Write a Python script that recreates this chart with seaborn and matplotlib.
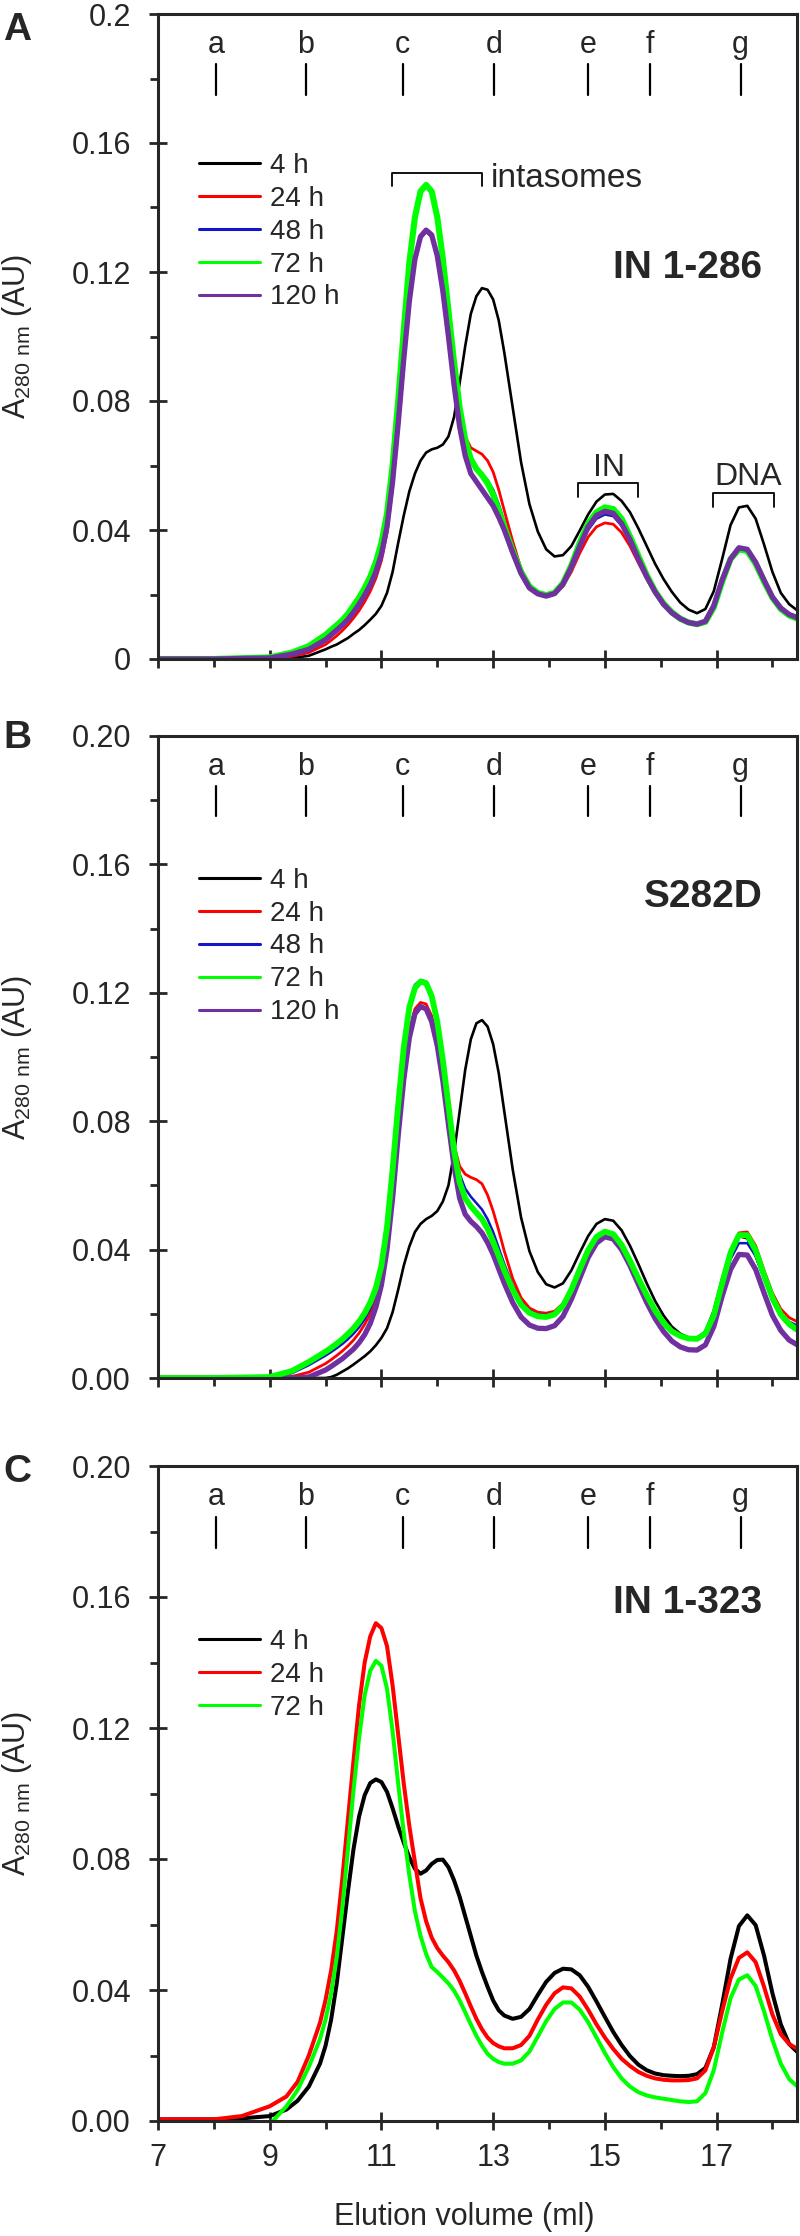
# SEC elution profiles - intasome assembly over time
# three stacked panels: IN 1-286, S282D, IN 1-323

import numpy as np
import pandas as pd
import matplotlib
matplotlib.use("Agg")
import matplotlib.pyplot as plt
import seaborn as sns


# ------------------------------ DATA ------------------------------

# elution volume (ml), panels A and B
vol_ab = [7.0, 8.0, 9.0, 9.4, 9.7,
          10.0, 10.1, 10.2, 10.3, 10.4, 10.5, 10.6, 10.7, 10.8, 10.9,
          11.0, 11.1, 11.2, 11.3, 11.4, 11.5, 11.6, 11.7, 11.8, 11.9,
          12.0, 12.1, 12.2, 12.3, 12.4, 12.5, 12.6, 12.7, 12.8, 12.9,
          13.0, 13.1, 13.2,
          13.35, 13.5, 13.65, 13.8, 13.95, 14.1, 14.25, 14.4, 14.55, 14.7, 14.85, 15.0,
          15.15, 15.3, 15.45, 15.6, 15.75, 15.9, 16.05, 16.2, 16.35, 16.5,
          16.65, 16.8, 16.95, 17.1, 17.25, 17.4, 17.55, 17.7, 17.85, 18.0, 18.15, 18.3, 18.45]

# elution volume (ml), panel C
vol_c = [7.0, 8.0, 8.5, 9.0, 9.3, 9.5, 9.7, 9.9,
         10.0, 10.1, 10.2, 10.3, 10.4, 10.5, 10.6, 10.7, 10.8, 10.9,
         11.0, 11.1, 11.2, 11.3, 11.4, 11.5, 11.6, 11.7, 11.8, 11.9,
         12.0, 12.1, 12.2, 12.3, 12.4, 12.5, 12.6, 12.7, 12.8, 12.9,
         13.0, 13.1, 13.2,
         13.35, 13.5, 13.65, 13.8, 13.95, 14.1, 14.25, 14.4, 14.55, 14.7, 14.85, 15.0,
         15.15, 15.3, 15.45, 15.6, 15.75, 15.9, 16.05, 16.2, 16.35, 16.5,
         16.65, 16.8, 16.95, 17.1, 17.25, 17.4, 17.55, 17.7, 17.85, 18.0, 18.15, 18.3, 18.45]

# Panel A - IN 1-286 (A280, AU)
a_4h = [0.0, 0.0, 0.0, 0.0003, 0.001,
        0.003, 0.0038, 0.0045, 0.0055, 0.0065, 0.0078, 0.009, 0.0105, 0.0122, 0.014,
        0.0165, 0.0205, 0.027, 0.036, 0.0445, 0.052, 0.0575, 0.0615, 0.064, 0.065,
        0.0655, 0.0665, 0.069, 0.075, 0.0855, 0.097, 0.107, 0.1125, 0.115, 0.1145,
        0.1115, 0.105, 0.095,
        0.078, 0.061, 0.048, 0.0395, 0.034, 0.0318, 0.0322, 0.035, 0.0398, 0.0448, 0.0488, 0.051,
        0.0512, 0.049, 0.0455, 0.0405, 0.035, 0.0295, 0.0248, 0.0208, 0.0175, 0.0153,
        0.0142, 0.0155, 0.021, 0.031, 0.0415, 0.047, 0.0475, 0.0435, 0.0355, 0.027, 0.0205, 0.017, 0.015]
a_24h = [0.0, 0.0, 0.0, 0.0008, 0.002,
         0.0045, 0.0058, 0.0072, 0.0088, 0.0106, 0.0127, 0.015, 0.0178, 0.021, 0.025,
         0.0305, 0.039, 0.053, 0.071, 0.091, 0.11, 0.123, 0.1305, 0.1325, 0.131,
         0.1245, 0.1135, 0.1, 0.0865, 0.076, 0.069, 0.0655, 0.0645, 0.0635, 0.0615,
         0.058, 0.0525, 0.046,
         0.0365, 0.028, 0.0228, 0.0203, 0.0195, 0.02, 0.0225, 0.027, 0.0328, 0.0378, 0.041, 0.0422,
         0.0418, 0.0392, 0.035, 0.0298, 0.0248, 0.0204, 0.0168, 0.0141, 0.0123, 0.0112,
         0.0107, 0.0116, 0.0163, 0.0243, 0.0308, 0.0342, 0.0337, 0.0298, 0.0243, 0.0191, 0.0157, 0.0137, 0.0127]
a_48h = [0.0, 0.0, 0.0002, 0.0012, 0.0027,
         0.0055, 0.007, 0.0085, 0.01, 0.0118, 0.014, 0.0165, 0.0193, 0.0225, 0.0265,
         0.032, 0.0405, 0.0545, 0.0725, 0.0925, 0.1105, 0.1235, 0.1305, 0.1325, 0.131,
         0.1248, 0.114, 0.1005, 0.0865, 0.0745, 0.066, 0.061, 0.059, 0.0575, 0.0555,
         0.0525, 0.048, 0.0425,
         0.0345, 0.0272, 0.0225, 0.0203, 0.0196, 0.0203, 0.0232, 0.0283, 0.0345, 0.04, 0.0435, 0.0448,
         0.0443, 0.0413, 0.0365, 0.0308, 0.0253, 0.0206, 0.0168, 0.0141, 0.0123, 0.0111,
         0.0106, 0.0114, 0.0162, 0.0242, 0.0307, 0.0341, 0.0336, 0.0297, 0.0242, 0.019, 0.0156, 0.0136, 0.0126]
a_72h = [0.0, 0.0, 0.0005, 0.002, 0.004,
         0.0075, 0.009, 0.0105, 0.012, 0.014, 0.0165, 0.019, 0.022, 0.0255, 0.03,
         0.036, 0.045, 0.06, 0.08, 0.102, 0.123, 0.137, 0.145, 0.147, 0.145,
         0.137, 0.124, 0.108, 0.092, 0.078, 0.068, 0.062, 0.059, 0.057, 0.0545,
         0.051, 0.046, 0.041,
         0.0335, 0.027, 0.0225, 0.0205, 0.0198, 0.0205, 0.0235, 0.029, 0.036, 0.042, 0.0455, 0.047,
         0.0465, 0.0435, 0.038, 0.032, 0.026, 0.021, 0.0172, 0.0145, 0.0125, 0.0113,
         0.0108, 0.0115, 0.016, 0.024, 0.031, 0.034, 0.0335, 0.0295, 0.024, 0.019, 0.0155, 0.0135, 0.0125]
a_120h = [0.0, 0.0, 0.0003, 0.0015, 0.003,
          0.006, 0.0075, 0.009, 0.0105, 0.0123, 0.0145, 0.017, 0.0198, 0.023, 0.027,
          0.0325, 0.041, 0.055, 0.073, 0.093, 0.111, 0.124, 0.131, 0.133, 0.1315,
          0.125, 0.114, 0.1, 0.085, 0.072, 0.063, 0.0575, 0.055, 0.0525, 0.05,
          0.0475, 0.044, 0.04,
          0.033, 0.0265, 0.022, 0.0202, 0.0195, 0.0203, 0.0232, 0.0285, 0.035, 0.041, 0.0445, 0.0458,
          0.0452, 0.042, 0.037, 0.031, 0.0255, 0.0208, 0.017, 0.0143, 0.0125, 0.0113,
          0.0108, 0.0117, 0.0165, 0.0245, 0.031, 0.0345, 0.034, 0.03, 0.0245, 0.0192, 0.0158, 0.0138, 0.0128]

# Panel B - S282D
b_4h = [0.0, 0.0, 0.0, 0.0, 0.0,
        0.0, 0.0003, 0.001, 0.002, 0.003, 0.0042, 0.0055, 0.0068, 0.0083, 0.0102,
        0.0125, 0.0155, 0.0205, 0.0275, 0.035, 0.041, 0.0455, 0.048, 0.0495, 0.0505,
        0.052, 0.055, 0.06, 0.07, 0.083, 0.096, 0.1055, 0.1105, 0.1115, 0.1095,
        0.104, 0.095, 0.083,
        0.065, 0.05, 0.0395, 0.033, 0.0292, 0.0282, 0.0295, 0.0335, 0.039, 0.0442, 0.048, 0.0495,
        0.049, 0.046, 0.0412, 0.0355, 0.0295, 0.024, 0.0195, 0.016, 0.0138, 0.0126,
        0.0124, 0.0145, 0.021, 0.031, 0.0395, 0.0442, 0.0435, 0.038, 0.031, 0.024, 0.0192, 0.0163, 0.0145]
b_24h = [0.0, 0.0, 0.0, 0.0005, 0.0018,
         0.0045, 0.0057, 0.007, 0.0084, 0.01, 0.0118, 0.014, 0.0167, 0.02, 0.0248,
         0.032, 0.0435, 0.06, 0.079, 0.096, 0.1085, 0.115, 0.117, 0.1165, 0.1128,
         0.1055, 0.095, 0.083, 0.0725, 0.066, 0.0635, 0.0625, 0.0618, 0.0605, 0.057,
         0.052, 0.046, 0.0395,
         0.031, 0.025, 0.0218, 0.0205, 0.0202, 0.0208, 0.0232, 0.0278, 0.0336, 0.0392, 0.0432, 0.0448,
         0.0442, 0.0412, 0.0366, 0.0314, 0.0263, 0.0216, 0.0178, 0.015, 0.0134, 0.0125,
         0.0123, 0.0139, 0.0197, 0.0298, 0.0396, 0.0452, 0.0455, 0.0412, 0.0335, 0.0265, 0.0215, 0.0188, 0.0175]
b_48h = [0.0, 0.0, 0.0001, 0.0015, 0.004,
         0.007, 0.0081, 0.0093, 0.0106, 0.0121, 0.0138, 0.0158, 0.0183, 0.0216, 0.0265,
         0.034, 0.046, 0.064, 0.0845, 0.103, 0.116, 0.1225, 0.124, 0.1235, 0.1195,
         0.1115, 0.0995, 0.0855, 0.0725, 0.0635, 0.059, 0.0565, 0.0545, 0.0525, 0.0495,
         0.0455, 0.0405, 0.0355,
         0.0288, 0.0237, 0.021, 0.0198, 0.0196, 0.0203, 0.0228, 0.0276, 0.0337, 0.0395, 0.0436, 0.0452,
         0.0445, 0.0413, 0.0365, 0.0312, 0.026, 0.0213, 0.0175, 0.0148, 0.0133, 0.0124,
         0.0122, 0.0136, 0.0188, 0.028, 0.037, 0.042, 0.042, 0.038, 0.031, 0.0245, 0.0198, 0.0175, 0.0163]
b_72h = [0.0, 0.0, 0.0003, 0.0022, 0.005,
         0.0082, 0.0094, 0.0107, 0.0121, 0.0137, 0.0155, 0.0176, 0.0202, 0.0235, 0.028,
         0.035, 0.047, 0.065, 0.085, 0.103, 0.1155, 0.1215, 0.1235, 0.123, 0.119,
         0.111, 0.099, 0.085, 0.071, 0.061, 0.056, 0.0535, 0.0515, 0.0495, 0.0465,
         0.0425, 0.038, 0.0335,
         0.0275, 0.0228, 0.0203, 0.0192, 0.019, 0.0198, 0.0225, 0.0275, 0.0338, 0.0398, 0.044, 0.0456,
         0.0448, 0.0415, 0.0365, 0.031, 0.0258, 0.021, 0.0172, 0.0145, 0.0131, 0.0123,
         0.0122, 0.0138, 0.0195, 0.0295, 0.039, 0.0445, 0.0445, 0.0398, 0.032, 0.025, 0.0198, 0.0168, 0.015]
b_120h = [0.0, 0.0, 0.0, 0.0, 0.0003,
          0.0025, 0.0036, 0.0048, 0.006, 0.0075, 0.009, 0.011, 0.0135, 0.017, 0.022,
          0.029, 0.04, 0.056, 0.0755, 0.093, 0.106, 0.1135, 0.1157, 0.115, 0.111,
          0.1035, 0.0925, 0.079, 0.066, 0.056, 0.051, 0.0488, 0.0472, 0.0452, 0.0422,
          0.0385, 0.034, 0.0295,
          0.0235, 0.019, 0.0165, 0.0155, 0.0154, 0.0163, 0.0192, 0.0245, 0.031, 0.0375, 0.042, 0.044,
          0.0433, 0.04, 0.035, 0.0292, 0.0235, 0.0185, 0.0145, 0.0115, 0.0097, 0.0088,
          0.0087, 0.0103, 0.016, 0.0255, 0.0338, 0.0385, 0.0383, 0.0338, 0.0265, 0.0195, 0.0148, 0.0118, 0.0103]

# Panel C - IN 1-323
c_4h = [0.0005, 0.0005, 0.0008, 0.0015, 0.0035, 0.0062, 0.0105, 0.0175,
        0.023, 0.031, 0.042, 0.056, 0.07, 0.083, 0.093, 0.0995, 0.1032, 0.1043,
        0.1035, 0.1005, 0.0955, 0.09, 0.085, 0.0805, 0.077, 0.0755, 0.0765, 0.0785,
        0.0797, 0.0798, 0.0775, 0.0735, 0.0685, 0.0625, 0.0565, 0.0505, 0.0455, 0.041,
        0.0368, 0.0338, 0.0322,
        0.0312, 0.0318, 0.0342, 0.0385, 0.0425, 0.0452, 0.0465, 0.0463, 0.0445, 0.041, 0.0365, 0.0318,
        0.0272, 0.0232, 0.0198, 0.0172, 0.0155, 0.0145, 0.014, 0.0138, 0.0137, 0.0138,
        0.0143, 0.0162, 0.0225, 0.0355, 0.0495, 0.0595, 0.0628, 0.0598, 0.0505, 0.039, 0.0295, 0.0235, 0.021]
c_24h = [0.0005, 0.0005, 0.0015, 0.0045, 0.0075, 0.012, 0.02, 0.03,
         0.037, 0.046, 0.058, 0.074, 0.092, 0.11, 0.127, 0.14, 0.148, 0.152,
         0.1505, 0.145, 0.133, 0.118, 0.103, 0.09, 0.079, 0.068, 0.061, 0.056,
         0.0528, 0.0505, 0.0485, 0.046, 0.0428, 0.039, 0.035, 0.0312, 0.028, 0.0255,
         0.0238, 0.0228, 0.0222,
         0.0222, 0.0232, 0.026, 0.031, 0.0355, 0.039, 0.0408, 0.0405, 0.038, 0.034, 0.0295, 0.0255,
         0.022, 0.019, 0.0168, 0.015, 0.0138, 0.013, 0.0126, 0.0124, 0.0124, 0.0125,
         0.013, 0.0155, 0.0225, 0.0335, 0.0435, 0.0498, 0.0515, 0.0485, 0.041, 0.0325, 0.0265, 0.0235, 0.022]
c_72h = [np.nan, np.nan, np.nan, -0.001, 0.0045, 0.0095, 0.0165, 0.025,
         0.031, 0.039, 0.05, 0.065, 0.083, 0.101, 0.117, 0.13, 0.1375, 0.1405,
         0.139, 0.132, 0.119, 0.103, 0.088, 0.075, 0.064, 0.0565, 0.051, 0.047,
         0.0455, 0.0438, 0.042, 0.0398, 0.0368, 0.0332, 0.0295, 0.026, 0.023, 0.0205,
         0.019, 0.018, 0.0175,
         0.0175, 0.0185, 0.0212, 0.0258, 0.0305, 0.0342, 0.0362, 0.0362, 0.034, 0.0302, 0.0255, 0.0208,
         0.0165, 0.013, 0.0105, 0.0088, 0.0078, 0.0072, 0.0068, 0.0064, 0.006, 0.0058,
         0.006, 0.0085, 0.0155, 0.027, 0.0375, 0.0432, 0.0445, 0.0412, 0.0335, 0.0248, 0.0175, 0.0128, 0.0105]

# axis labels / markers
y_ticks = [0, 0.04, 0.08, 0.12, 0.16, 0.2]
y_labels_a = ["0", "0.04", "0.08", "0.12", "0.16", "0.2"]
y_labels_bc = ["0.00", "0.04", "0.08", "0.12", "0.16", "0.20"]
x_ticks = [7, 9, 11, 13, 15, 17]
std_names = ["a", "b", "c", "d", "e", "f", "g"]
std_vol = [8.04, 9.65, 11.38, 13.01, 14.7, 15.8, 17.43]

colors = {"4 h": "#000000", "24 h": "#ff0000", "48 h": "#1414c8",
          "72 h": "#00ff00", "120 h": "#7030a0"}


# ---------------------------- FIGURE -----------------------------

sns.set_style("ticks")
plt.rcParams['font.family'] = ['Liberation Sans', 'DejaVu Sans']
plt.rcParams['mathtext.fontset'] = 'custom'
plt.rcParams['mathtext.rm'] = 'Liberation Sans'
plt.rcParams['axes.linewidth'] = 2.2

fig = plt.figure(figsize=(8, 22.36), dpi=100)
W, H = 800, 2236


def make_axes(top_px, bottom_px):
    return fig.add_axes([158 / W, 1 - bottom_px / H, (797 - 158) / W, (bottom_px - top_px) / H])


def draw_panel(ax, vol, series, widths, order, ylabels, legend_y, show_x):
    handles = {}
    for name in order:
        sns.lineplot(x=vol, y=series[name], color=colors[name], linewidth=widths[name],
                     label=name, ax=ax, estimator=None)
        handles[name] = ax.get_lines()[-1]

    ax.set_xlim(7, 18.44)
    ax.set_ylim(0, 0.2)
    ax.set_xticks(x_ticks)
    ax.set_xticks([8, 10, 12, 14, 16, 18], minor=True)
    ax.set_yticks(y_ticks)
    ax.set_yticks([0.02, 0.06, 0.10, 0.14, 0.18], minor=True)
    ax.set_yticklabels(ylabels)
    ax.tick_params(axis='both', which='major', direction='inout', length=13, width=2.0)
    ax.tick_params(axis='both', which='minor', direction='out', length=5.5, width=2.0)
    ax.tick_params(axis='y', which='major', labelsize=22, pad=13)
    ax.tick_params(axis='x', which='major', labelsize=22, pad=9, labelbottom=show_x)
    for s in ax.spines.values():
        s.set_visible(True)
        s.set_linewidth(2.2)

    # column calibration standards
    for n, v in zip(std_names, std_vol):
        ax.text(v, 0.188, n, ha='center', va='baseline', fontsize=22)
        ax.plot([v, v], [0.175, 0.1845], color='k', lw=1.6)

    ax.set_ylabel(r"A$_{\mathregular{280\ nm}}$ (AU)", fontsize=22)
    ax.yaxis.label.set_va('center')
    ax.yaxis.set_label_coords(-0.221, 0.5)

    legend_names = [n for n in ["4 h", "24 h", "48 h", "72 h", "120 h"] if n in series]
    leg = ax.legend([handles[n] for n in legend_names], legend_names,
                    loc='upper left', bbox_to_anchor=(0.064, legend_y), frameon=False,
                    fontsize=20, handlelength=2.2, handletextpad=0.35,
                    labelspacing=0.25, borderpad=0, borderaxespad=0)
    for line in leg.get_lines():
        line.set_linewidth(2.2)
    return ax


# ---- Panel A
axA = make_axes(14, 659)
draw_panel(axA, vol_ab,
           {"4 h": a_4h, "24 h": a_24h, "48 h": a_48h, "72 h": a_72h, "120 h": a_120h},
           {"4 h": 1.9, "24 h": 2.0, "48 h": 1.8, "72 h": 4.4, "120 h": 3.8},
           ["4 h", "24 h", "48 h", "72 h", "120 h"], y_labels_a, 0.785, False)
axA.text(17.82, 0.118, "IN 1-286", ha='right', va='baseline', fontsize=28, fontweight='bold')
axA.plot([11.19, 11.19, 12.80, 12.80], [0.1467, 0.1508, 0.1508, 0.1467], color='k', lw=1.3)
axA.text(12.95, 0.1465, "intasomes", ha='left', va='baseline', fontsize=24)
axA.plot([14.52, 14.52, 15.60, 15.60], [0.0503, 0.0547, 0.0547, 0.0503], color='k', lw=1.3)
axA.text(15.08, 0.0568, "IN", ha='center', va='baseline', fontsize=23)
axA.plot([16.94, 16.94, 18.03, 18.03], [0.0472, 0.0514, 0.0514, 0.0472], color='k', lw=1.3)
axA.text(17.56, 0.0538, "DNA", ha='center', va='baseline', fontsize=23)

# ---- Panel B
axB = make_axes(736, 1378)
draw_panel(axB, vol_ab,
           {"4 h": b_4h, "24 h": b_24h, "48 h": b_48h, "72 h": b_72h, "120 h": b_120h},
           {"4 h": 1.9, "24 h": 2.0, "48 h": 1.8, "72 h": 4.2, "120 h": 3.8},
           ["4 h", "24 h", "48 h", "120 h", "72 h"], y_labels_bc, 0.795, False)
axB.text(17.82, 0.1466, "S282D", ha='right', va='baseline', fontsize=28, fontweight='bold')

# ---- Panel C
axC = make_axes(1466, 2121)
draw_panel(axC, vol_c,
           {"4 h": c_4h, "24 h": c_24h, "72 h": c_72h},
           {"4 h": 2.9, "24 h": 2.9, "72 h": 2.9},
           ["4 h", "24 h", "72 h"], y_labels_bc, 0.751, True)
axC.text(17.82, 0.1552, "IN 1-323", ha='right', va='baseline', fontsize=28, fontweight='bold')
axC.set_xlabel("Elution volume (ml)", fontsize=22)
axC.xaxis.set_label_coords(0.48, -0.1466)
axC.xaxis.label.set_va('center')

# panel letters
fig.text(0.004, 1 - 40 / H, "A", fontsize=28, fontweight='bold', va='baseline')
fig.text(0.004, 1 - 748 / H, "B", fontsize=28, fontweight='bold', va='baseline')
fig.text(0.004, 1 - 1482 / H, "C", fontsize=28, fontweight='bold', va='baseline')

plt.savefig("out.png", dpi=100)
